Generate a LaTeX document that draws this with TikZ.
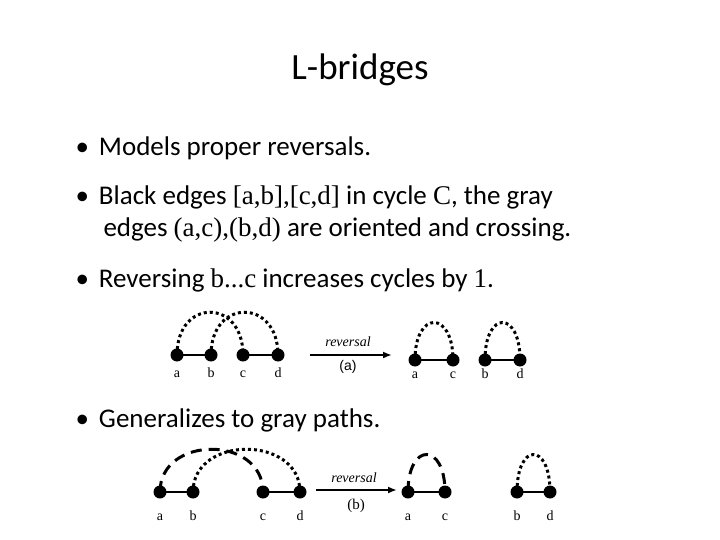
\documentclass[tikz,border=0pt]{standalone}
\usepackage{fontspec}
\setmainfont{Carlito}
\newfontfamily\serf{Liberation Serif}
\newfontfamily\arialf{Liberation Sans}
\usetikzlibrary{calc,arrows.meta}
\begin{document}
\begin{tikzpicture}[x=1pt,y=-1pt,
  vtx/.style={circle,fill=black,inner sep=0pt,minimum size=13pt},
  lbl/.style={font=\serf\fontsize{14}{14}\selectfont,anchor=base},
  blk/.style={line width=2.2pt},
  dot/.style={line width=3pt,dash pattern=on 3pt off 3pt},
  dsh/.style={line width=3pt,dash pattern=on 11pt off 7pt},
  arr/.style={line width=2.5pt,-{Latex[length=9pt,width=7pt]}},
  bl/.style={anchor=west,font=\fontsize{27}{32}\selectfont,align=left}]
\useasboundingbox (0,0) rectangle (720,540);
\node[font=\fontsize{37}{40}\selectfont] (title) at (360,70) {L-bridges};
\node[bl] (b1) at (72,148) {•\hspace{10pt}Models proper reversals.};
\node[bl] (b2) at (72,197) {•\hspace{10pt}Black edges {\serf[a,b],[c,d]} in cycle {\serf C}, the gray};
\node[bl] (b2b) at (100,230) {edges {\serf(a,c),(b,d)} are oriented and crossing.};
\node[bl] (b3) at (72,280) {•\hspace{10pt}Reversing {\serf b...c} increases cycles by {\serf 1}.};
\node[bl] (b4) at (72,420) {•\hspace{10pt}Generalizes to gray paths.};
% figure a
\coordinate (a1) at (177,355); \coordinate (b1v) at (211,355);
\coordinate (c1) at (243,355); \coordinate (d1) at (278,355);
\draw[dot] (a1) .. controls ($(a1)+(0,-57)$) and ($(c1)+(0,-57)$) .. (c1);
\draw[dot] (b1v) .. controls ($(b1v)+(0,-57)$) and ($(d1)+(0,-57)$) .. (d1);
\draw[blk] (a1) -- (b1v); \draw[blk] (c1) -- (d1);
\foreach \p/\t in {a1/a,b1v/b,c1/c,d1/d}{\node[vtx] at (\p) {}; \node[lbl] at ($(\p)+(0,22)$) {\t};}
\coordinate (ra) at (310,355); \coordinate (rb) at (392,355);
\draw[arr] (ra) -- (rb);
\node[font=\serf\itshape\fontsize{14}{14}\selectfont] (rt1) at (348,342) {reversal};
\node[font=\arialf\fontsize{14}{14}\selectfont] (rl1) at (348,367) {(a)};
\coordinate (a2) at (415,360); \coordinate (c2) at (453,360);
\coordinate (b2v) at (485,360); \coordinate (d2) at (520,360);
\draw[dot] (a2) .. controls ($(a2)+(0,-50)$) and ($(c2)+(0,-50)$) .. (c2);
\draw[dot] (b2v) .. controls ($(b2v)+(0,-50)$) and ($(d2)+(0,-50)$) .. (d2);
\draw[blk] (a2) -- (c2); \draw[blk] (b2v) -- (d2);
\foreach \p/\t in {a2/a,c2/c,b2v/b,d2/d}{\node[vtx] at (\p) {}; \node[lbl] at ($(\p)+(0,18)$) {\t};}
% figure b
\coordinate (a3) at (160,492); \coordinate (b3v) at (193,492);
\coordinate (c3) at (263,492); \coordinate (d3) at (300,492);
\draw[dsh] (a3) .. controls ($(a3)+(0,-57)$) and ($(c3)+(0,-57)$) .. (c3);
\draw[dot] (b3v) .. controls ($(b3v)+(0,-57)$) and ($(d3)+(0,-57)$) .. (d3);
\draw[blk] (a3) -- (b3v); \draw[blk] (c3) -- (d3);
\foreach \p/\t in {a3/a,b3v/b,c3/c,d3/d}{\node[vtx] at (\p) {}; \node[lbl] at ($(\p)+(0,28)$) {\t};}
\coordinate (rc) at (316,490); \coordinate (rd) at (397,490);
\draw[arr] (rc) -- (rd);
\node[font=\serf\itshape\fontsize{14}{14}\selectfont] (rt2) at (354,478) {reversal};
\node[font=\serf\fontsize{15}{15}\selectfont] (rl2) at (356,506) {(b)};
\coordinate (a4) at (408,492); \coordinate (c4) at (445,492);
\coordinate (b4v) at (517,492); \coordinate (d4) at (550,492);
\draw[dsh] (a4) .. controls ($(a4)+(0,-50)$) and ($(c4)+(0,-50)$) .. (c4);
\draw[dot] (b4v) .. controls ($(b4v)+(0,-50)$) and ($(d4)+(0,-50)$) .. (d4);
\draw[blk] (a4) -- (c4); \draw[blk] (b4v) -- (d4);
\foreach \p/\t in {a4/a,c4/c,b4v/b,d4/d}{\node[vtx] at (\p) {}; \node[lbl] at ($(\p)+(0,28)$) {\t};}
\end{tikzpicture}
\end{document}
